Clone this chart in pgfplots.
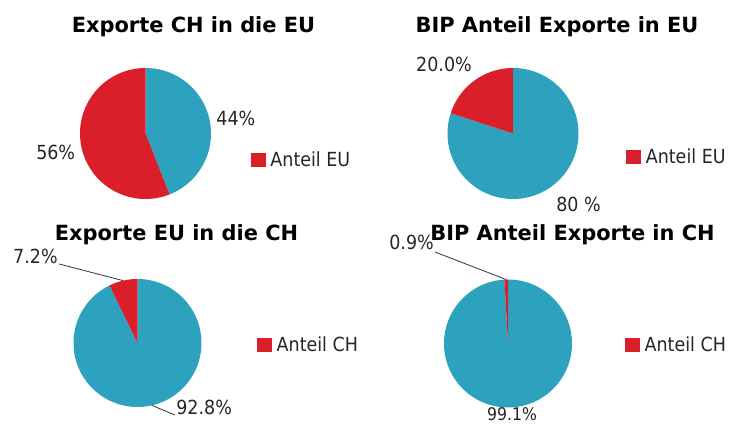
\documentclass[border=0pt]{standalone}
\usepackage{fontspec}
\setmainfont{DejaVu Sans Condensed}
\newfontfamily\titlefont{DejaVu Sans}
\usepackage{pgfplots}
\pgfplotsset{compat=1.18}
\usepgfplotslibrary{polar}
\definecolor{cblue}{HTML}{2DA2BF}
\definecolor{cred}{HTML}{DA1F2B}
\tikzset{lbl/.style={font=\fontsize{19.5}{22}\selectfont, text=black!85, inner sep=1bp}}
\pgfplotsset{pie/.style={hide axis, scale only axis, width=131bp, height=131bp,
  ymin=0, ymax=1, anchor=center, clip=false,
  legend style={draw=none, fill=none, anchor=west, font=\fontsize{19.5}{22}\selectfont, text=black!85, inner sep=0pt},
  legend cell align=left,
  legend image code/.code={\fill[#1] (0bp,-7bp) rectangle (15bp,7bp); \path (18bp,0bp);},
}}
\begin{document}
\begin{tikzpicture}
\useasboundingbox (0,0) rectangle (737bp,424bp);
\tikzset{ttl/.style={font=\titlefont\fontsize{21}{24}\selectfont\bfseries, anchor=center}}
\node[ttl] at (193.5bp,397bp) {Exporte CH in die EU};
\node[ttl] at (557bp,397bp) {BIP Anteil Exporte in EU};
\node[ttl] at (176.5bp,189bp) {Exporte EU in die CH};
\node[ttl] at (572.5bp,189bp) {BIP Anteil Exporte in CH};

% Pie 1: Exporte CH in die EU (44 / 56)
\begin{polaraxis}[pie, at={(145.5bp,290.5bp)}, legend style={at={(1.30,0.30)}}]
\addplot[draw=none, fill=cblue, domain={90-3.6*44}:90, samples=120, forget plot] {1} -- (axis cs:0,0) -- cycle;
\addplot[draw=none, fill=cred, domain=90:{90+3.6*56}, samples=120] {1} -- (axis cs:0,0) -- cycle;
\addlegendentry{Anteil EU}
\node[lbl] at (axis cs:9.7,1.40) {44\%};
\node[lbl] at (axis cs:191.6,1.40) {56\%};
\end{polaraxis}

% Pie 2: BIP Anteil Exporte in EU (80 / 20)
\begin{polaraxis}[pie, at={(513bp,290.5bp)}, legend style={at={(1.36,0.324)}}]
\addplot[draw=none, fill=cblue, domain={90-3.6*80}:90, samples=160, forget plot] {1} -- (axis cs:0,0) -- cycle;
\addplot[draw=none, fill=cred, domain=90:{90+3.6*20}, samples=60] {1} -- (axis cs:0,0) -- cycle;
\addlegendentry{Anteil EU}
\node[lbl] at (axis cs:135,1.49) {20.0\%};
\node[lbl] at (axis cs:-47.3,1.475) {80 \%};
\end{polaraxis}

% Pie 3: Exporte EU in die CH (92.8 / 7.2)
\begin{polaraxis}[pie, at={(137.5bp,81bp)}, width=128bp, height=128bp, legend style={at={(1.43,0.485)}}]
\addplot[draw=none, fill=cblue, domain={90-3.6*92.8}:90, samples=180, forget plot] {1} -- (axis cs:0,0) -- cycle;
\addplot[draw=none, fill=cred, domain=90:{90+3.6*7.2}, samples=30] {1} -- (axis cs:0,0) -- cycle;
\addlegendentry{Anteil CH}
\draw[black!80, line width=0.8pt] (axis cs:102.96,1) -- (axis cs:134.8,1.74) node[lbl, anchor=base east] {7.2\%};
\draw[black!80, line width=0.8pt] (axis cs:-77.04,1) -- (axis cs:-62.5,1.268) node[lbl, anchor=base west] {92.8\%};
\end{polaraxis}

% Pie 4: BIP Anteil Exporte in CH (99.1 / 0.9)
\begin{polaraxis}[pie, at={(508bp,80.5bp)}, width=128bp, height=128bp, legend style={at={(1.41,0.49)}}]
\addplot[draw=none, fill=cblue, domain={90-3.6*99.1}:90, samples=180, forget plot] {1} -- (axis cs:0,0) -- cycle;
\addplot[draw=none, fill=cred, domain=90:{90+3.6*0.9}, samples=10] {1} -- (axis cs:0,0) -- cycle;
\addlegendentry{Anteil CH}
\draw[black!80, line width=0.8pt] (axis cs:91.62,1) -- (axis cs:128.6,1.829);
\node[lbl, anchor=base east] at ([yshift=3bp]axis cs:128.6,1.829) {0.9\%};
\end{polaraxis}
\node[lbl, font=\fontsize{17.5}{20}\selectfont, inner sep=0pt, anchor=base] at (512bp,4bp) {99.1\%};
\end{tikzpicture}
\end{document}
